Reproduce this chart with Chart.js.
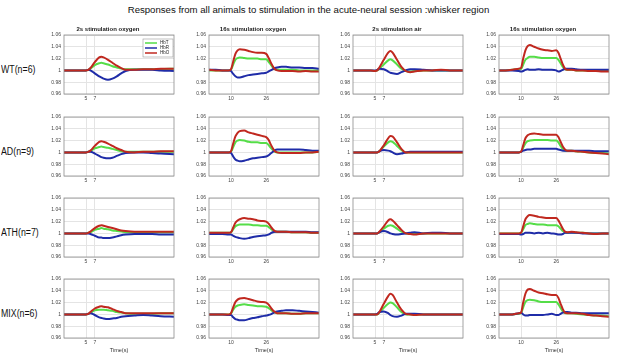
<!DOCTYPE html>
<html>
<head>
<meta charset="utf-8">
<script src="https://cdn.jsdelivr.net/npm/chart.js@4"></script>
<style>
  html, body { margin: 0; padding: 0; background: #fff; }
  #wrap { position: relative; width: 617px; height: 355px; overflow: hidden; font-family: "Liberation Sans", Arial, sans-serif; }
  #titulo { position: absolute; left: 0; top: 4px; width: 617px; text-align: center; font-size: 9.6px; color: #111; }
  .rotulo { position: absolute; left: 1px; font-size: 10px; color: #111; white-space: nowrap; transform: scaleX(0.88); transform-origin: left center; }
  canvas { position: absolute; }
</style>
</head>
<body>
<div id="wrap">
  <div id="titulo">Responses from all animals to stimulation in the acute-neural session :whisker region</div>
</div>
<script>
// ---- eixos / textos ----
const groups = ["WT(n=6)", "AD(n=9)", "ATH(n=7)", "MIX(n=6)"];
const panelTitles = ["2s stimulation oxygen", "16s stimulation oxygen", "2s stimulation air", "16s stimulation oxygen"];
const seriesNames = ["HbT", "HbR", "HbO"];
const yTicks = [0.96, 0.98, 1, 1.02, 1.04, 1.06];
const xTicks2 = [5, 7];
const xTicks16 = [10, 26];

// tempos (s)
const t2 = [0, 2, 4, 5, 5.5, 6, 7, 8, 8.5, 9, 10, 11, 12, 13, 14, 16, 18, 20, 22, 25];
const t16 = [0, 3, 6, 9, 10, 11, 12, 13, 14, 16, 18, 20, 22, 24, 26, 27, 28, 29, 30, 31, 33, 35, 38, 41, 44, 47, 50];

// ---- WT ----
const wtC1HbO = [1,1,1,1,1.001,1.004,1.014,1.022,1.023,1.022,1.018,1.013,1.008,1.004,1.001,1.001,1.002,1.002,1.003,1.003];
const wtC1HbT = [1,1,1,1,1.001,1.003,1.009,1.012,1.013,1.012,1.010,1.007,1.005,1.003,1.002,1.002,1.002,1.002,1.002,1.003];
const wtC1HbR = [1,1,1,1,1.001,1.000,0.995,0.990,0.988,0.986,0.984,0.986,0.990,0.995,0.999,1.001,1.001,1.001,1.000,0.999];

const wtC2HbO = [1.001,1,1,1,1.002,1.015,1.028,1.034,1.036,1.035,1.033,1.031,1.030,1.030,1.028,1.022,1.014,1.007,1.002,1.000,0.999,0.999,0.999,0.998,0.999,0.998,0.998];
const wtC2HbT = [1,1,1,1,1.001,1.010,1.018,1.021,1.022,1.021,1.020,1.020,1.020,1.019,1.019,1.015,1.010,1.005,1.002,1.001,1.001,1.001,1.001,1.000,1.000,1.000,1.000];
const wtC2HbR = [1.001,1.001,1,1,0.999,0.994,0.990,0.988,0.988,0.990,0.992,0.993,0.994,0.995,0.996,0.998,1.000,1.002,1.004,1.005,1.006,1.006,1.005,1.005,1.004,1.004,1.003];

const wtC3HbO = [1,1,1,0.999,1.000,1.005,1.018,1.030,1.033,1.030,1.018,1.006,0.999,0.997,0.998,1.000,1.000,1.001,1.000,1.000];
const wtC3HbT = [1,1,1,0.999,1.000,1.003,1.010,1.017,1.019,1.017,1.010,1.003,0.999,0.998,0.999,1.000,1.000,1.000,1.000,1.000];
const wtC3HbR = [1,1,1,1.000,1.001,1.003,1.002,0.998,0.996,0.995,0.994,0.997,1.000,1.002,1.002,1.001,1.000,1.000,1.000,1.000];

const wtC4HbO = [1,1,1.001,1.003,1.004,1.020,1.034,1.041,1.043,1.040,1.037,1.035,1.034,1.033,1.034,1.030,1.020,1.010,1.003,1.001,1.001,1.000,1.000,0.999,0.999,0.998,0.998];
const wtC4HbT = [1,1,1.001,1.002,1.002,1.010,1.018,1.021,1.023,1.023,1.022,1.021,1.021,1.021,1.021,1.018,1.012,1.006,1.002,1.001,1.001,1.000,1.000,1.000,0.999,0.999,0.999];
const wtC4HbR = [1,1,1.000,0.999,0.998,0.999,1.001,1.002,1.001,1.001,1.002,1.001,1.001,1.001,1.000,0.998,0.999,1.001,1.003,1.003,1.003,1.002,1.001,1.001,1.001,1.001,1.001];

// ---- AD ----
const adC1HbO = [1,1,1,1,1.001,1.003,1.011,1.018,1.019,1.018,1.015,1.011,1.007,1.004,1.001,1.000,1.001,1.001,1.002,1.002];
const adC1HbT = [1,1,1,1,1.001,1.002,1.007,1.009,1.010,1.009,1.008,1.006,1.004,1.002,1.001,1.001,1.001,1.001,1.001,1.001];
const adC1HbR = [1,1,1,1,1.001,1.001,0.998,0.994,0.992,0.991,0.990,0.991,0.994,0.997,0.999,1.000,1.000,0.999,0.998,0.997];

const adC2HbO = [1,1,1,1,1.002,1.015,1.027,1.033,1.036,1.037,1.034,1.032,1.030,1.028,1.026,1.022,1.014,1.007,1.002,1.000,0.999,0.999,0.999,0.999,1.000,1.000,1.001];
const adC2HbT = [1,1,1,1,1.001,1.009,1.017,1.020,1.021,1.020,1.018,1.017,1.017,1.016,1.016,1.013,1.008,1.004,1.001,1.000,1.000,1.000,1.000,1.000,1.000,1.000,1.001];
const adC2HbR = [1,1,1,1,0.999,0.993,0.988,0.986,0.985,0.986,0.988,0.990,0.991,0.992,0.993,0.995,0.998,1.001,1.004,1.005,1.005,1.005,1.005,1.005,1.004,1.003,1.003];

const adC3HbO = [1,1,1,1,1.000,1.002,1.012,1.024,1.028,1.027,1.017,1.006,1.000,1.000,1.000,1.000,1.000,1.000,1.000,1.000];
const adC3HbT = [1,1,1,1,1.000,1.002,1.010,1.017,1.019,1.018,1.011,1.004,1.000,1.000,1.000,1.000,1.000,1.000,1.000,1.000];
const adC3HbR = [1,1,1,1,1.000,1.002,1.004,1.003,1.002,1.000,0.997,0.998,1.000,1.001,1.001,1.001,1.001,1.001,1.001,1.001];

const adC4HbO = [1,1,1,1,1.001,1.012,1.024,1.029,1.031,1.032,1.031,1.030,1.030,1.030,1.030,1.026,1.018,1.010,1.005,1.003,1.003,1.002,1.001,1.000,0.999,0.998,0.997];
const adC4HbT = [1,1,1,1,1.001,1.008,1.015,1.019,1.020,1.021,1.021,1.021,1.021,1.020,1.020,1.017,1.011,1.006,1.003,1.003,1.003,1.002,1.001,1.000,0.999,0.999,0.998];
const adC4HbR = [1,1,1,1,1.001,1.003,1.004,1.005,1.005,1.006,1.006,1.006,1.006,1.006,1.006,1.005,1.004,1.003,1.003,1.003,1.003,1.003,1.003,1.003,1.002,1.002,1.002];

// ---- ATH ----
const athC1HbO = [1,1,1,1,1.001,1.003,1.009,1.013,1.014,1.013,1.011,1.009,1.007,1.005,1.004,1.003,1.003,1.003,1.003,1.003];
const athC1HbT = [1,1,1,1,1.001,1.002,1.006,1.008,1.009,1.008,1.007,1.005,1.004,1.003,1.002,1.002,1.002,1.002,1.002,1.002];
const athC1HbR = [1,1,1,1,1.000,0.999,0.996,0.993,0.993,0.992,0.992,0.993,0.995,0.997,0.998,0.999,0.999,0.999,0.998,0.998];

const athC2HbO = [1.001,1.001,1.001,1.001,1.002,1.010,1.018,1.022,1.024,1.026,1.025,1.024,1.022,1.021,1.020,1.017,1.012,1.007,1.004,1.003,1.003,1.003,1.002,1.002,1.002,1.001,1.001];
const athC2HbT = [1.001,1.001,1.001,1.001,1.002,1.007,1.012,1.014,1.015,1.015,1.015,1.014,1.014,1.013,1.013,1.011,1.008,1.005,1.003,1.003,1.003,1.003,1.002,1.002,1.002,1.001,1.001];
const athC2HbR = [0.999,0.999,0.999,0.998,0.998,0.996,0.994,0.993,0.992,0.991,0.992,0.994,0.995,0.996,0.997,0.998,1.000,1.002,1.003,1.003,1.003,1.003,1.003,1.003,1.003,1.002,1.002];

const athC3HbO = [1,1,1,1,1.000,1.003,1.012,1.022,1.024,1.022,1.014,1.006,1.000,0.999,0.998,1.000,1.000,1.000,1.000,1.000];
const athC3HbT = [1,1,1,1,1.000,1.002,1.008,1.013,1.014,1.013,1.008,1.003,1.000,0.999,0.999,1.000,1.000,1.000,1.000,1.000];
const athC3HbR = [1,1,1,1,1.000,1.002,1.004,1.002,1.000,0.999,0.998,0.999,1.000,1.001,1.002,1.000,1.001,1.001,1.000,1.000];

const athC4HbO = [1,1,1,1,1.001,1.012,1.024,1.029,1.031,1.030,1.028,1.027,1.026,1.026,1.026,1.022,1.015,1.008,1.003,1.002,1.003,1.002,1.001,1.000,0.999,1.000,1.000];
const athC4HbT = [1,1,1,1,1.001,1.007,1.014,1.016,1.017,1.016,1.015,1.015,1.014,1.014,1.014,1.012,1.008,1.004,1.002,1.001,1.002,1.001,1.001,1.000,1.000,1.000,1.000];
const athC4HbR = [0.999,0.999,0.999,0.999,0.998,0.999,1.001,1.001,1.001,1.000,1.001,1.000,1.001,1.000,0.999,0.998,0.998,0.999,1.001,1.001,1.001,1.001,1.000,1.000,1.000,1.000,1.000];

// ---- MIX ----
const mixC1HbO = [1,1,1,1,1.001,1.004,1.010,1.013,1.014,1.013,1.012,1.009,1.006,1.004,1.002,1.002,1.002,1.002,1.002,1.002];
const mixC1HbT = [1,1,1,1,1.001,1.003,1.007,1.008,1.008,1.008,1.007,1.006,1.004,1.003,1.002,1.001,1.001,1.001,1.002,1.002];
const mixC1HbR = [1,1,1,1,1.001,1.002,0.999,0.995,0.994,0.993,0.992,0.993,0.994,0.996,0.997,0.998,0.999,0.998,0.997,0.996];

const mixC2HbO = [1,1,1,1,1.002,1.012,1.021,1.025,1.027,1.028,1.026,1.024,1.022,1.021,1.020,1.017,1.012,1.007,1.004,1.002,1.002,1.002,1.001,1.001,1.002,1.002,1.002];
const mixC2HbT = [1,1,1,1,1.002,1.008,1.013,1.015,1.016,1.017,1.016,1.015,1.014,1.014,1.013,1.011,1.008,1.005,1.003,1.002,1.002,1.002,1.001,1.001,1.002,1.002,1.002];
const mixC2HbR = [1,1,1,0.999,0.999,0.995,0.992,0.991,0.990,0.990,0.992,0.994,0.995,0.997,0.998,0.999,1.000,1.002,1.004,1.005,1.006,1.007,1.007,1.006,1.005,1.004,1.003];

const mixC3HbO = [1,1,1,1,1.000,1.004,1.018,1.031,1.035,1.033,1.020,1.008,1.001,1.000,0.999,1.000,1.000,1.000,1.000,1.000];
const mixC3HbT = [1,1,1,1,1.000,1.003,1.011,1.018,1.020,1.019,1.012,1.004,1.000,1.000,1.000,1.000,1.000,1.000,1.000,1.000];
const mixC3HbR = [1,1,1,1,1.001,1.004,1.005,1.002,0.999,0.997,0.996,0.998,1.001,1.001,1.001,1.000,1.000,1.000,1.000,1.000];

const mixC4HbO = [1,1,1,1.002,1.003,1.020,1.035,1.042,1.043,1.040,1.037,1.036,1.034,1.033,1.033,1.028,1.018,1.009,1.003,1.002,1.002,1.002,1.001,0.999,0.998,0.997,0.996];
const mixC4HbT = [1,1,1,1.001,1.002,1.012,1.021,1.024,1.025,1.024,1.022,1.021,1.021,1.021,1.021,1.017,1.011,1.005,1.002,1.002,1.002,1.001,1.000,0.999,0.998,0.998,0.997];
const mixC4HbR = [1,1,1,1.002,1.003,1.000,0.998,0.998,0.999,0.999,0.999,0.999,1.000,1.001,0.999,0.999,1.001,1.003,1.004,1.004,1.003,1.003,1.002,1.002,1.002,1.002,1.002];

// linhas [grupo][coluna] = [HbT, HbR, HbO]
const painel = [
  [[wtC1HbT, wtC1HbR, wtC1HbO], [wtC2HbT, wtC2HbR, wtC2HbO], [wtC3HbT, wtC3HbR, wtC3HbO], [wtC4HbT, wtC4HbR, wtC4HbO]],
  [[adC1HbT, adC1HbR, adC1HbO], [adC2HbT, adC2HbR, adC2HbO], [adC3HbT, adC3HbR, adC3HbO], [adC4HbT, adC4HbR, adC4HbO]],
  [[athC1HbT, athC1HbR, athC1HbO], [athC2HbT, athC2HbR, athC2HbO], [athC3HbT, athC3HbR, athC3HbO], [athC4HbT, athC4HbR, athC4HbO]],
  [[mixC1HbT, mixC1HbR, mixC1HbO], [mixC2HbT, mixC2HbR, mixC2HbO], [mixC3HbT, mixC3HbR, mixC3HbO], [mixC4HbT, mixC4HbR, mixC4HbO]]
];

// ---- layout ----
const cores = ["#55dd48", "#1f2ca8", "#c0281f"];
const rowTops = [35, 117, 198, 279];
const colLefts = [64, 209, 353, 499];
const plotW = 110, plotH = 59;
const yAxisW = 22, titleH = 10;

const wrap = document.getElementById("wrap");

// caixa em volta do grafico (estilo matlab)
const caixa = {
  id: "caixa",
  afterDraw(chart) {
    const a = chart.chartArea, ctx = chart.ctx;
    ctx.save();
    ctx.strokeStyle = "#8c8c8c";
    ctx.lineWidth = 0.8;
    ctx.strokeRect(a.left, a.top, a.right - a.left, a.bottom - a.top);
    ctx.restore();
  }
};

// legenda dentro do primeiro painel
const legendaDentro = {
  id: "legendaDentro",
  afterDraw(chart, args, opts) {
    if (!opts.show) return;
    const a = chart.chartArea, ctx = chart.ctx;
    const x = a.right - 31, y = a.top + 4, w = 30, h = 18;
    ctx.save();
    ctx.fillStyle = "#fff";
    ctx.fillRect(x, y, w, h);
    ctx.strokeStyle = "#999";
    ctx.lineWidth = 0.6;
    ctx.strokeRect(x, y, w, h);
    ctx.font = "4.5px 'Liberation Sans', Arial";
    ctx.textBaseline = "middle";
    chart.data.datasets.forEach((ds, i) => {
      const yy = y + 4 + i * 5;
      ctx.strokeStyle = ds.borderColor;
      ctx.lineWidth = 1.5;
      ctx.beginPath();
      ctx.moveTo(x + 2, yy);
      ctx.lineTo(x + 14, yy);
      ctx.stroke();
      ctx.fillStyle = "#222";
      ctx.fillText(ds.label, x + 17, yy);
    });
    ctx.restore();
  }
};

groups.forEach((g, r) => {
  const lab = document.createElement("div");
  lab.className = "rotulo";
  lab.style.top = (rowTops[r] + 29) + "px";
  lab.textContent = g;
  wrap.appendChild(lab);

  for (let c = 0; c < 4; c++) {
    const curto = (c === 0 || c === 2);
    const tempos = curto ? t2 : t16;
    const xTicks = curto ? xTicks2 : xTicks16;
    const ultimo = r === groups.length - 1;
    const xAxisH = ultimo ? 16 : 12;

    const cv = document.createElement("canvas");
    const w = yAxisW + plotW + 3;
    const h = titleH + plotH + xAxisH;
    cv.width = w; cv.height = h;
    cv.style.left = (colLefts[c] - yAxisW) + "px";
    cv.style.top = (rowTops[r] - titleH) + "px";
    cv.style.width = w + "px"; cv.style.height = h + "px";
    wrap.appendChild(cv);

    const datasets = painel[r][c].map((vals, k) => ({
      label: seriesNames[k],
      data: tempos.map((t, i) => ({ x: t, y: vals[i] })),
      borderColor: cores[k],
      borderWidth: 2,
      pointRadius: 0,
      cubicInterpolationMode: "monotone",
      order: 2 - k
    }));

    new Chart(cv.getContext("2d"), {
      type: "line",
      data: { datasets },
      options: {
        responsive: false,
        animation: false,
        devicePixelRatio: 1,
        layout: { padding: { left: 0, right: 3, top: r === 0 ? 0 : titleH, bottom: 0 } },
        plugins: {
          legend: { display: false },
          tooltip: { enabled: false },
          title: {
            display: r === 0,
            text: panelTitles[c],
            font: { size: 6, weight: "bold", family: "'Liberation Sans', Arial" },
            color: "#222",
            padding: { top: 0.8, bottom: 2 }
          },
          legendaDentro: { show: r === 0 && c === 0 }
        },
        scales: {
          x: {
            type: "linear",
            min: 0,
            max: curto ? 25 : 50,
            afterBuildTicks: s => { s.ticks = xTicks.map(v => ({ value: v })); },
            afterFit: s => { s.height = xAxisH; },
            grid: { color: "#e4e4e4", drawTicks: false },
            border: { display: false },
            ticks: { font: { size: 5, family: "'Liberation Sans', Arial" }, color: "#444", padding: 2, maxRotation: 0 },
            title: { display: ultimo, text: "Time(s)", font: { size: 5.5, family: "'Liberation Sans', Arial" }, color: "#333", padding: 0 }
          },
          y: {
            min: 0.96,
            max: 1.06,
            afterBuildTicks: s => { s.ticks = yTicks.map(v => ({ value: v })); },
            afterFit: s => { s.width = yAxisW; },
            grid: { color: "#e4e4e4", drawTicks: false },
            border: { display: false },
            ticks: {
              font: { size: 5, family: "'Liberation Sans', Arial" },
              color: "#444",
              padding: 3,
              callback: v => String(Number(v.toFixed(2)))
            }
          }
        }
      },
      plugins: [caixa, legendaDentro]
    });
  }
});
</script>
</body>
</html>
